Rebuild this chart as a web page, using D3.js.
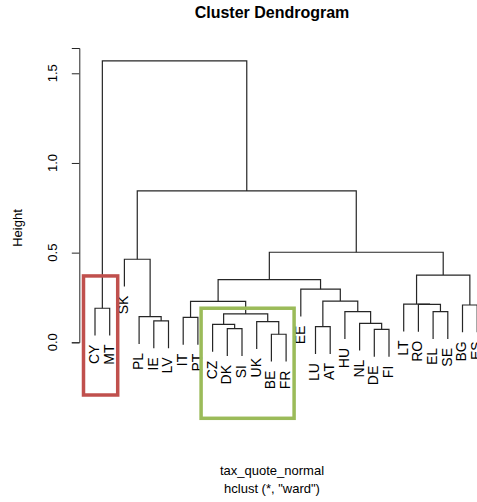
<!DOCTYPE html>
<html>
<head>
<meta charset="utf-8">
<script src="https://cdn.jsdelivr.net/npm/d3@7"></script>
<style>
  body { margin: 0; background: #fff; }
  text { font-family: "Liberation Sans", Arial, sans-serif; fill: #000; }
</style>
</head>
<body>
<div id="chart"></div>
<script>
const width = 477;
const height = 502;

// Leaf labels in dendrogram order
const labels = ["CY", "MT", "SK", "PL", "IE", "LV", "IT", "PT", "CZ", "DK", "SI", "UK", "BE", "FR",
  "EE", "LU", "AT", "HU", "NL", "DE", "FI", "LT", "RO", "EL", "SE", "BG", "ES"];

// Merge table (R hclust style): negative = leaf (1-based), positive = earlier merge row
const mergeLeft  = [-13, -20, -10, -16,  -9, -19, -12,  -5,  -7,  -4,  5, -18, -24,  -1, -26, -23, -22,  4,  9, -15, 19, 17,  -3, 21, 23, 14];
const mergeRight = [-14, -21, -11, -17,   3,   2,   1,  -6,  -8,   8,  7,   6, -25,  -2, -27,  13,  16, 12, 11,  18, 20, 15,  10, 22, 24, 25];
const mergeHeight = [0.045, 0.072, 0.076, 0.087, 0.100, 0.106, 0.115, 0.119, 0.139, 0.143, 0.158, 0.171,
  0.171, 0.190, 0.208, 0.211, 0.213, 0.230, 0.228, 0.296, 0.349, 0.375, 0.463, 0.502, 0.844, 1.569];

const yTicks = [0, 0.5, 1.0, 1.5];

// Highlight boxes (leaf ranges)
const boxes = [
  { from: "CY", to: "MT", top: 0.37, color: "#c0504d" },
  { from: "CZ", to: "FR", top: 0.19, color: "#9bbb59" }
];

const x = d3.scaleLinear().domain([0, labels.length - 1]).range([95, 477.2]);
const y = d3.scaleLinear().domain([0, 1.641]).range([342.3, 48]);

const hang = 0.1 * (d3.max(mergeHeight) - d3.min(mergeHeight));

const svg = d3.select("#chart").append("svg")
  .attr("width", width)
  .attr("height", height);

const lines = svg.append("g")
  .attr("stroke", "#262626")
  .attr("stroke-width", 1.2)
  .attr("fill", "none");

const leafBottom = {};

// returns {x, h} of a node, drawing its branches
function node(ref, parentH) {
  if (ref < 0) {
    const i = -ref - 1;
    leafBottom[i] = parentH - hang;
    return { x: x(i), h: parentH - hang };
  }
  const k = ref - 1;
  const h = mergeHeight[k];
  const a = node(mergeLeft[k], h);
  const b = node(mergeRight[k], h);
  lines.append("path")
    .attr("d", `M${a.x},${y(a.h)}V${y(h)}H${b.x}V${y(b.h)}`);
  return { x: (a.x + b.x) / 2, h: h };
}
const root = node(mergeHeight.length, null);

// leaf labels
svg.append("g").selectAll("text")
  .data(labels)
  .join("text")
  .attr("transform", (d, i) => `translate(${x(i) - 1},${y(leafBottom[i]) + 9}) rotate(-90)`)
  .attr("text-anchor", "end")
  .attr("dy", "0.35em")
  .style("font-size", "14px")
  .text(d => d);

// y axis
const axis = svg.append("g")
  .attr("transform", "translate(79.3,0)")
  .call(d3.axisLeft(y).tickValues(yTicks).tickSizeOuter(0).tickSize(7.5).tickFormat(""));
axis.select(".domain").attr("stroke", "#262626");
axis.selectAll(".tick line").attr("stroke", "#262626");

svg.append("g").selectAll("text")
  .data(yTicks)
  .join("text")
  .attr("transform", d => `translate(57,${y(d)}) rotate(-90)`)
  .attr("text-anchor", "middle")
  .style("font-size", "13px")
  .text(d3.format(".1f"));

svg.append("text")
  .attr("transform", "translate(22,228) rotate(-90)")
  .attr("text-anchor", "middle")
  .style("font-size", "13px")
  .text("Height");

// title and subtitles
svg.append("text")
  .attr("x", 272).attr("y", 18)
  .attr("text-anchor", "middle")
  .style("font-size", "16px")
  .style("font-weight", "bold")
  .text("Cluster Dendrogram");

svg.append("text")
  .attr("x", 272).attr("y", 475)
  .attr("text-anchor", "middle")
  .style("font-size", "13px")
  .text("tax_quote_normal");

svg.append("text")
  .attr("x", 272).attr("y", 493)
  .attr("text-anchor", "middle")
  .style("font-size", "13px")
  .text('hclust (*, "ward")');

// highlight boxes
const idx = name => labels.indexOf(name);
svg.append("g").selectAll("rect")
  .data(boxes)
  .join("rect")
  .attr("x", d => x(idx(d.from)) - 11.5)
  .attr("y", d => y(d.top))
  .attr("width", d => x(idx(d.to)) - x(idx(d.from)) + 19.5)
  .attr("height", d => d.from === "CY" ? 395 - y(d.top) : 418.3 - y(d.top))
  .attr("fill", "none")
  .attr("stroke", d => d.color)
  .attr("stroke-width", 3.5);
</script>
</body>
</html>
